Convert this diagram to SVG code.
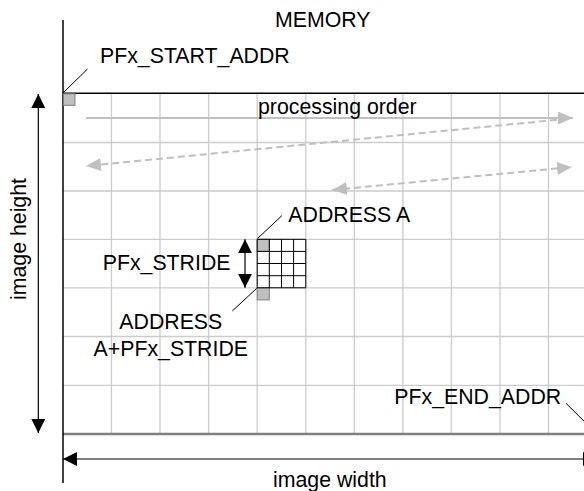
<svg xmlns="http://www.w3.org/2000/svg" width="584" height="491" viewBox="0 0 584 491">
<style>
text{font-family:"Liberation Sans",Arial,sans-serif;font-size:21.3px;fill:#000}
.grid{stroke:#cccccc;stroke-width:1.3;fill:none}
.blk{stroke:#000;stroke-width:1.2;fill:none}
.lead{stroke:#000;stroke-width:1;fill:none}
.ga{stroke:#bfbfbf;stroke-width:2;fill:none}
.dash{stroke-dasharray:7 4}
.cell{fill:#c0c0c0;stroke:#7f7f7f;stroke-width:1}
</style>
<defs>
<marker id="ah" viewBox="0 0 14 14" refX="14" refY="7" markerWidth="14" markerHeight="14" markerUnits="userSpaceOnUse" orient="auto-start-reverse"><path d="M0,0 L14,7 L0,14 z" fill="#000"/></marker>
<marker id="gh" viewBox="0 0 15 13" refX="15" refY="6.5" markerWidth="15" markerHeight="13" markerUnits="userSpaceOnUse" orient="auto-start-reverse"><path d="M0,0 L15,6.5 L0,13 z" fill="#c0c0c0"/></marker>
</defs>
<rect width="584" height="491" fill="#fff"/>
<g id="memory-grid">
<path class="grid" d="M111.5,93V434M160,93V434M208.6,93V434M257.2,93V434M305.8,93V434M354.3,93V434M402.9,93V434M451.4,93V434M500,93V434M548.5,93V434"/>
<path class="grid" d="M63,142.5H584M63,191H584M63,239.3H584M63,287.8H584M63,336.5H584M63,385.3H584"/>
<path d="M63,93.3H584" stroke="#000" stroke-width="1.5"/>
<path d="M63,434H584" stroke="#808080" stroke-width="2.4"/>
<path d="M63,20V483" stroke="#000" stroke-width="1.5"/>
<rect class="cell" x="63.5" y="93.8" width="11.5" height="11.5"/>
</g>
<g id="block">
<rect class="cell" x="257.2" y="239.3" width="12.1" height="12.1"/>
<rect class="cell" x="257.2" y="287.8" width="12.1" height="12.1"/>
<path class="lead" d="M257.2,239.3H305.8V287.8H257.2ZM269.3,239.3V287.8M281.5,239.3V287.8M293.6,239.3V287.8M257.2,251.4H305.8M257.2,263.5H305.8M257.2,275.7H305.8"/>
</g>
<g id="connectors">
<path class="ga" d="M86,118H573" marker-end="url(#gh)"/>
<path class="ga dash" d="M557,119.8L86,166" marker-end="url(#gh)"/>
<path class="ga dash" d="M332,190L572,167" marker-start="url(#gh)" marker-end="url(#gh)"/>
<path class="blk" d="M38.3,94V433" marker-start="url(#ah)" marker-end="url(#ah)"/>
<path class="blk" d="M63,459H597" marker-start="url(#ah)" marker-end="url(#ah)"/>
<path class="blk" d="M245,239.3V287.8" marker-start="url(#ah)" marker-end="url(#ah)"/>
<path class="lead" d="M63.3,92.7L87.5,69"/>
<path class="lead" d="M257.5,238.5L282,215.5"/>
<path class="lead" d="M256.7,288.3L232.3,311"/>
<path class="lead" d="M566,403.3L597,434"/>
</g>
<g id="labels">
<text id="memory" x="275" y="27.3">MEMORY</text>
<text id="start-addr" x="100" y="63.3">PFx_START_ADDR</text>
<text id="processing-order" x="258" y="114">processing order</text>
<text id="address-a" x="288.3" y="221.7">ADDRESS A</text>
<text id="stride" x="102.7" y="270">PFx_STRIDE</text>
<text id="address-a-stride" text-anchor="middle"><tspan x="170.8" y="329.3">ADDRESS</tspan><tspan x="170.8" y="355.7">A+PFx_STRIDE</tspan></text>
<text id="end-addr" x="394.3" y="404">PFx_END_ADDR</text>
<text id="image-width" x="273" y="486.7">image width</text>
<text id="image-height" text-anchor="middle" transform="translate(26,239) rotate(-90)">image height</text>
</g>
</svg>
